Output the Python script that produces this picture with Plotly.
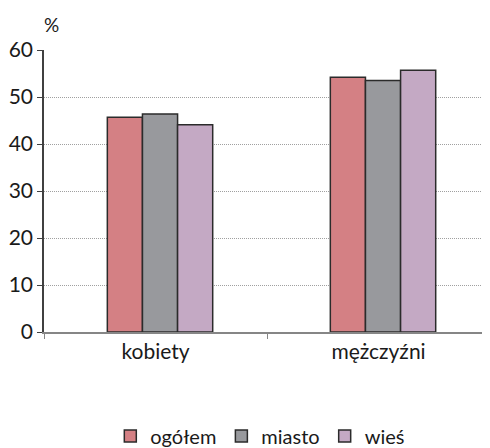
import plotly.graph_objects as go

categories = ["kobiety", "mężczyźni"]
series_names = ["ogółem", "miasto", "wieś"]
ogolem = [45.7, 54.2]
miasto = [46.4, 53.5]
wies = [44.1, 55.7]
colors = ["#D48084", "#98999D", "#C4A9C4"]
y_ticks = [0, 10, 20, 30, 40, 50, 60]

FONT = "Lato"
TXT = "#1a1a1a"

BAR_W = 0.1575
offsets = [-0.216, -0.0585, 0.099]

fig = go.Figure()
for name, vals, col, off in zip(series_names, [ogolem, miasto, wies], colors, offsets):
    fig.add_trace(go.Bar(
        x=categories, y=vals, name=name, width=BAR_W, offset=off,
        marker=dict(color=col, line=dict(color="#2b2b2b", width=1.5)),
    ))

fig.update_layout(
    width=490, height=448,
    margin=dict(l=36, r=8, t=42, b=124, autoexpand=False),
    paper_bgcolor="white", plot_bgcolor="white",
    barmode="overlay",
    font=dict(family=FONT, size=20, color=TXT),
    showlegend=True,
    legend=dict(orientation="h", x=0.485, xanchor="center", y=-0.369, yanchor="middle",
                font=dict(family=FONT, size=20, color=TXT), itemwidth=30,
                bgcolor="rgba(0,0,0,0)"),
    xaxis=dict(type="category", range=[-0.5, 1.5], showline=True, linecolor="#868686", linewidth=1.5,
               ticks="outside", tickson="boundaries", ticklen=5, tickcolor="#868686",
               showgrid=False, tickfont=dict(family=FONT, size=21, color=TXT)),
    yaxis=dict(range=[0, 60], tickvals=y_ticks, showline=True, linecolor="#404040", linewidth=1.5,
               ticks="outside", ticklen=5, tickcolor="#404040",
               showgrid=True, gridcolor="#a0a0a0", griddash="1px,1px", gridwidth=1,
               zeroline=False, tickfont=dict(family=FONT, size=21, color=TXT)),
    annotations=[dict(text="%", xref="paper", yref="paper", x=-0.005, y=1.089,
                      xanchor="left", yanchor="middle", showarrow=False,
                      font=dict(family=FONT, size=19, color=TXT))],
)

fig.write_html("out.html")
